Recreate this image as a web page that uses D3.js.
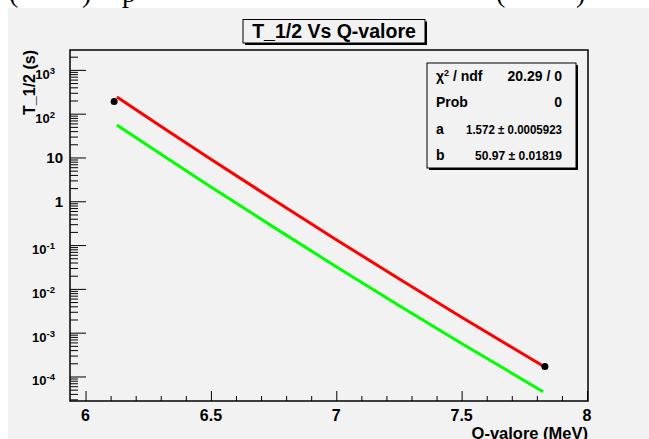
<!DOCTYPE html>
<html>
<head>
<meta charset="utf-8">
<script src="https://cdn.jsdelivr.net/npm/d3@7"></script>
<style>
  body { margin: 0; background: #fff; }
  svg { display: block; }
  text { font-family: "Liberation Sans", Arial, sans-serif; font-weight: bold; fill: #000; }
</style>
</head>
<body>
<svg id="chart" width="649" height="439"></svg>
<script>
// measured points
const qPoints = [6.114, 7.832];
const tPoints = [190, 1.69e-4];

// fit curve (red) and second curve (green)
const curveQ = [6.125, 6.3, 6.5, 6.75, 7.0, 7.25, 7.5, 7.825];
const fitT = [240, 51.8, 9.16, 1.08, 0.133, 0.0170, 2.26e-3, 1.73e-4];
const altT = [55.2, 12.0, 2.13, 0.257, 0.0321, 4.18e-3, 5.68e-4, 4.48e-5];

const xMajor = [6, 6.5, 7, 7.5, 8];
const xMinor = [6.1, 6.2, 6.3, 6.4, 6.6, 6.7, 6.8, 6.9, 7.1, 7.2, 7.3, 7.4, 7.6, 7.7, 7.8, 7.9];
const yExp = [3, 2, 1, 0, -1, -2, -3, -4];

const statLabels = ["χ2 / ndf", "Prob", "a", "b"];
const statValues = ["20.29 / 0", "0", "1.572 ± 0.0005923", "50.97 ± 0.01819"];

const svg = d3.select("#chart");
const bg = "#f2f2f2";

// stray text from the page above the canvas
svg.append("g")
  .selectAll("text")
  .data([["(", 9], [")", 82], ["p", 122], ["(", 496], [")", 576]])
  .enter()
  .append("text")
  .attr("x", d => d[1])
  .attr("y", 2)
  .style("font-family", "Liberation Serif, serif")
  .style("font-weight", "normal")
  .style("font-size", "28px")
  .text(d => d[0]);

svg.append("rect")
  .attr("x", 8).attr("y", 8)
  .attr("width", 641).attr("height", 431)
  .attr("fill", bg);

const frame = { left: 70, top: 50, right: 588, bottom: 401 };

const x = d3.scaleLinear().domain([5.938, 8.004]).range([frame.left, frame.right]);
const y = d3.scaleLog().domain([Math.pow(10, -4.56), Math.pow(10, 3.454)]).range([frame.bottom, frame.top]);

// y minor ticks
const yMinor = [];
for (let e = -5; e <= 3; e++) {
  for (let k = 2; k <= 9; k++) {
    const v = k * Math.pow(10, e);
    if (v > y.domain()[0] && v < y.domain()[1]) yMinor.push(v);
  }
}

const axisStyle = g => {
  g.select(".domain").remove();
  g.selectAll("line").attr("stroke", "#000").attr("stroke-width", 1);
};

svg.append("g")
  .attr("transform", `translate(${frame.left},0)`)
  .call(d3.axisLeft(y).tickValues(yMinor).tickSize(-8).tickFormat(""))
  .call(axisStyle);
svg.append("g")
  .attr("transform", `translate(${frame.left},0)`)
  .call(d3.axisLeft(y).tickValues(yExp.map(e => Math.pow(10, e))).tickSize(-16).tickFormat(""))
  .call(axisStyle);

svg.append("g")
  .attr("transform", `translate(0,${frame.bottom})`)
  .call(d3.axisBottom(x).tickValues(xMinor).tickSize(-5).tickFormat(""))
  .call(axisStyle);
svg.append("g")
  .attr("transform", `translate(0,${frame.bottom})`)
  .call(d3.axisBottom(x).tickValues(xMajor).tickSize(-10).tickFormat(""))
  .call(axisStyle);

// frame
svg.append("rect")
  .attr("x", frame.left).attr("y", frame.top)
  .attr("width", frame.right - frame.left).attr("height", frame.bottom - frame.top)
  .attr("fill", "none").attr("stroke", "#000").attr("stroke-width", 1.5);

// x tick labels
svg.append("g")
  .selectAll("text")
  .data(xMajor)
  .enter()
  .append("text")
  .attr("x", d => x(d))
  .attr("y", 421)
  .attr("text-anchor", "middle")
  .style("font-size", "16px")
  .text(d => d);

// y tick labels
yExp.forEach(e => {
  const yy = y(Math.pow(10, e));
  if (e === 0 || e === 1) {
    svg.append("text")
      .attr("x", 63).attr("y", yy + 5.5)
      .attr("text-anchor", "end")
      .style("font-size", "15px")
      .text(e === 0 ? "1" : "10");
  } else {
    const t = svg.append("text")
      .attr("x", 55).attr("y", yy + 9)
      .attr("text-anchor", "end")
      .style("font-size", "13px");
    t.append("tspan").text("10");
    t.append("tspan").attr("dy", -5).style("font-size", "9.5px").text(e);
  }
});

// axis titles
svg.append("text")
  .attr("transform", `translate(35,50) rotate(-90)`)
  .attr("text-anchor", "end")
  .style("font-size", "16px")
  .text("T_1/2 (s)");

svg.append("text")
  .attr("x", 588).attr("y", 438.5)
  .attr("text-anchor", "end")
  .style("font-size", "16.5px")
  .text("Q-valore (MeV)");

// curves
const line = d3.line()
  .x((d, i) => x(curveQ[i]))
  .y(d => y(d))
  .curve(d3.curveMonotoneX);

svg.append("path")
  .attr("d", line(altT))
  .attr("fill", "none").attr("stroke", "#00ff00").attr("stroke-width", 3);
svg.append("path")
  .attr("d", line(fitT))
  .attr("fill", "none").attr("stroke", "#ff0000").attr("stroke-width", 3);

svg.append("g")
  .selectAll("circle")
  .data(qPoints)
  .enter()
  .append("circle")
  .attr("cx", d => x(d))
  .attr("cy", (d, i) => y(tPoints[i]))
  .attr("r", 3.5)
  .attr("fill", "#000");

// title box
const title = svg.append("g");
title.append("rect").attr("x", 245).attr("y", 21.5).attr("width", 182).attr("height", 23.5).attr("fill", "#000");
title.append("rect").attr("x", 243).attr("y", 19.5).attr("width", 182).attr("height", 23.5)
  .attr("fill", bg).attr("stroke", "#000").attr("stroke-width", 1);
title.append("text")
  .attr("x", 334).attr("y", 38.3)
  .attr("text-anchor", "middle")
  .style("font-size", "19.5px")
  .text("T_1/2 Vs Q-valore");

// stats box
const stats = svg.append("g");
stats.append("rect").attr("x", 429).attr("y", 65).attr("width", 149).attr("height", 105).attr("fill", "#000");
stats.append("rect").attr("x", 427).attr("y", 63).attr("width", 149).attr("height", 105)
  .attr("fill", bg).attr("stroke", "#000").attr("stroke-width", 1);

const statWidths = [null, null, 96, 87];
statLabels.forEach((lab, i) => {
  const yy = 63 + 13.1 + i * 26.25 + 5;
  const t = stats.append("text")
    .attr("x", 436).attr("y", yy)
    .style("font-size", "14px");
  if (i === 0) {
    t.append("tspan").text("χ");
    t.append("tspan").attr("dy", -5).style("font-size", "9px").text("2");
    t.append("tspan").attr("dy", 5).text(" / ndf");
  } else {
    t.text(lab);
  }
  const v = stats.append("text")
    .attr("x", 562).attr("y", yy)
    .attr("text-anchor", "end")
    .style("font-size", statWidths[i] ? "13.5px" : "14px")
    .text(statValues[i]);
  if (statWidths[i]) v.attr("textLength", statWidths[i]).attr("lengthAdjust", "spacingAndGlyphs");
});
</script>
</body>
</html>
